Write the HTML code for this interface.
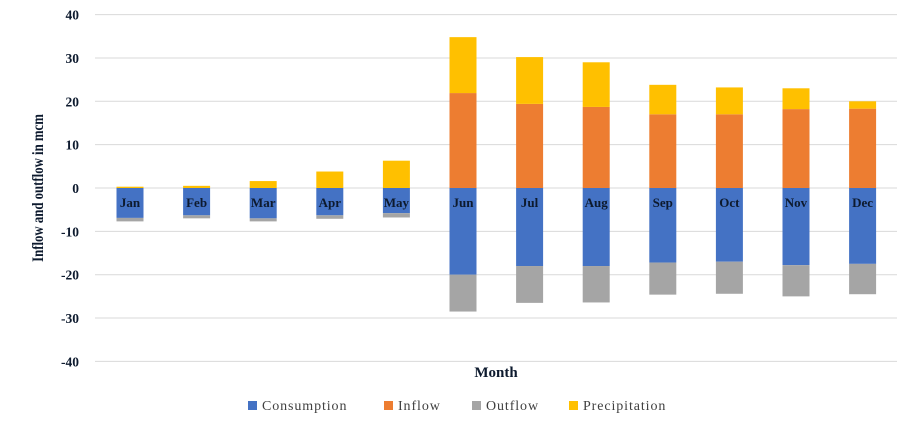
<!DOCTYPE html>
<html><head><meta charset="utf-8"><style>
body{margin:0;background:#fff;}
svg text{font-family:"Liberation Serif",serif;font-weight:bold;}
</style></head><body>
<svg id="c" width="919" height="425" xmlns="http://www.w3.org/2000/svg">
<g id="grid"></g><g id="bars"></g><g id="labels"></g>
<text transform="translate(43,188) rotate(-90) scale(0.8,1)" text-anchor="middle" font-size="16" fill="#0d1a2e">Inflow and outflow in mcm</text>
<text x="496" y="377" text-anchor="middle" font-size="15" fill="#0d1a2e">Month</text>
<g id="legend" font-size="14"></g>
</svg>
<script>
const months=["Jan","Feb","Mar","Apr","May","Jun","Jul","Aug","Sep","Oct","Nov","Dec"];
const consumption=[-6.9,-6.3,-7.0,-6.3,-5.8,-20.0,-18.0,-18.0,-17.2,-17.0,-17.8,-17.5];
const outflow=[-0.8,-0.7,-0.7,-0.8,-1.0,-8.5,-8.5,-8.4,-7.4,-7.4,-7.2,-7.0];
const inflow=[0,0,0,0,0,21.9,19.4,18.7,17.0,17.0,18.2,18.3];
const precipitation=[0.3,0.5,1.6,3.8,6.3,12.9,10.8,10.3,6.8,6.2,4.8,1.7];
const ticks=[40,30,20,10,0,-10,-20,-30,-40];
const NS="http://www.w3.org/2000/svg";
const y=v=>188-v*4.335;
const x=i=>130+i*66.6;
const bw=27;
function mk(tag,attrs,parent){const e=document.createElementNS(NS,tag);for(const k in attrs)e.setAttribute(k,attrs[k]);document.getElementById(parent).appendChild(e);return e;}
ticks.forEach(t=>{
  const l=mk('line',{x1:95,x2:897,y1:y(t),y2:y(t),stroke:'#d9d9d9','stroke-width':1},'grid');
  
  
  const tx=mk('text',{x:79,y:y(t)+5,'text-anchor':'end','font-size':13.5,fill:'#0d1a2e'},'grid');
  tx.textContent=t;
  
  
});
function bar(i,a,b,col,name){
  const r=mk('rect',{x:x(i)-bw/2,y:Math.min(y(a),y(b)),width:bw,height:Math.abs(y(a)-y(b)),fill:col},'bars');
  
  
}
months.forEach((m,i)=>{
  bar(i,0,consumption[i],'#4472C4','bar-consumption-'+m.toLowerCase());
  bar(i,consumption[i],consumption[i]+outflow[i],'#A5A5A5','bar-outflow-'+m.toLowerCase());
  bar(i,0,inflow[i],'#ED7D31','bar-inflow-'+m.toLowerCase());
  bar(i,inflow[i],inflow[i]+precipitation[i],'#FFC000','bar-precipitation-'+m.toLowerCase());
  const t=mk('text',{x:x(i),y:207,'text-anchor':'middle','font-size':13,fill:'#0d1a2e'},'labels');
  t.textContent=m;
  
  
});
const leg=[["Consumption","#4472C4",248],["Inflow","#ED7D31",384],["Outflow","#A5A5A5",472],["Precipitation","#FFC000",569]];
leg.forEach(([n,c,lx])=>{
  const g=mk('g',{},'legend');
  
  
  const r=document.createElementNS(NS,'rect');r.setAttribute('x',lx);r.setAttribute('y',401);r.setAttribute('width',9);r.setAttribute('height',9);r.setAttribute('fill',c);g.appendChild(r);
  const t=document.createElementNS(NS,'text');t.setAttribute('x',lx+14);t.setAttribute('y',410);t.setAttribute('fill','#404040');t.setAttribute('style','font-weight:normal;letter-spacing:0.9px');t.textContent=n;g.appendChild(t);
});
</script>
</body></html>
